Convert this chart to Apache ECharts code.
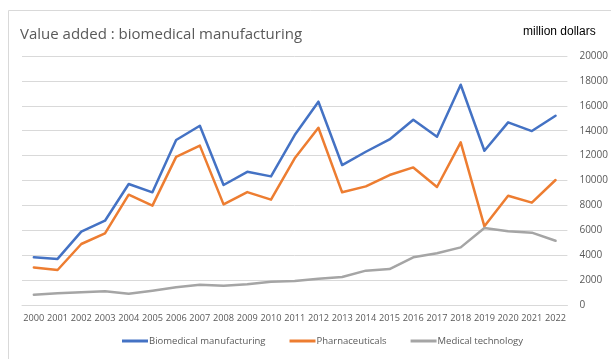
<!DOCTYPE html>
<html><head><meta charset="utf-8">
<script src="https://cdn.jsdelivr.net/npm/echarts@6/dist/echarts.min.js"></script>
<style>html,body{margin:0;padding:0;background:#fff}#c{width:611px;height:359px}</style>
</head><body><div id="c"></div>
<script>
const years = ['2000','2001','2002','2003','2004','2005','2006','2007','2008','2009','2010','2011','2012','2013','2014','2015','2016','2017','2018','2019','2020','2021','2022'];
const biomedical = [3830,3700,5890,6770,9720,9050,13250,14400,9640,10700,10330,13650,16330,11240,12310,13300,14880,13520,17690,12390,14670,13970,15200];
const pharma = [3020,2810,4900,5750,8860,7980,11900,12800,8080,9070,8460,11780,14240,9050,9530,10440,11050,9480,13060,6320,8780,8220,10040];
const medtech = [830,940,1020,1100,910,1150,1420,1630,1550,1660,1870,1930,2110,2250,2760,2890,3830,4150,4630,6180,5920,5810,5160];
const yTicks = {min:0, max:20000, interval:2000};

const chart = echarts.init(document.getElementById('c'), null, {renderer:'canvas'});
const font = 'Open Sans';
function line(name, data, color){
  return {name, type:'line', data, symbol:'none', smooth:false,
    lineStyle:{color, width:2.5, cap:'round', join:'round'}, itemStyle:{color}};
}
chart.setOption({
  animation:false,
  graphic:[
    {type:'rect', shape:{x:8.5,y:10.5,width:800,height:500}, style:{fill:'none', stroke:'#d9d9d9', lineWidth:1}, silent:true},
    {type:'text', left:20, top:27, style:{text:'Value added : biomedical manufacturing', font:'15px "Open Sans"', fill:'#595959'}},
    {type:'text', left:523, top:26, style:{text:'million dollars', font:'12px "Liberation Sans"', fill:'#000'}}
  ],
  grid:{left:22, right:36, top:56, bottom:54, containLabel:false},
  legend:{bottom:8, left:117, icon:'rect', itemWidth:26, itemHeight:3, itemGap:24,
    textStyle:{fontFamily:font, fontSize:9.5, color:'#595959', padding:[0,0,0,-4]},
    data:['Biomedical manufacturing','Pharnaceuticals','Medical technology']},
  xAxis:{type:'category', data:years, boundaryGap:true,
    axisLine:{show:true, lineStyle:{color:'#d9d9d9', width:1}}, axisTick:{show:false},
    axisLabel:{interval:0, fontFamily:font, fontSize:9.2, color:'#595959', margin:9}},
  yAxis:{type:'value', position:'right', min:yTicks.min, max:yTicks.max, interval:yTicks.interval,
    axisLine:{show:false}, axisTick:{show:false},
    splitLine:{lineStyle:{color:'#d9d9d9', width:1}},
    axisLabel:{fontFamily:font, fontSize:10, color:'#595959', margin:12, align:'left', formatter:v=>String(v)}},
  series:[
    line('Biomedical manufacturing', biomedical, '#4472C4'),
    line('Pharnaceuticals', pharma, '#ED7D31'),
    line('Medical technology', medtech, '#A5A5A5')
  ]
});
</script></body></html>
